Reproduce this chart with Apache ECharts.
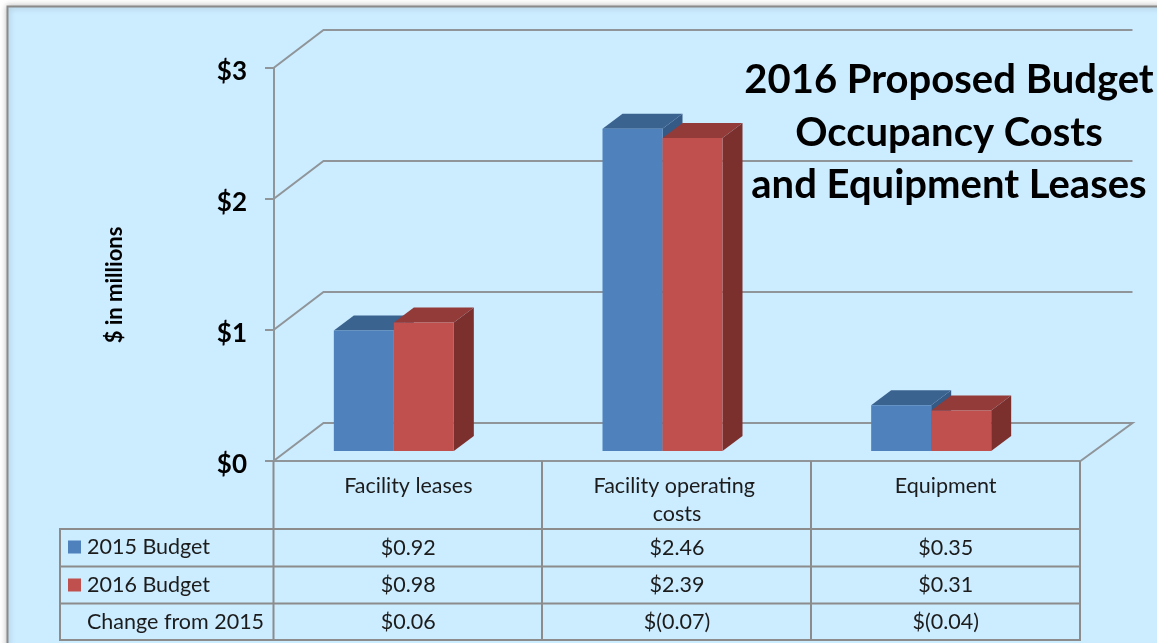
<!DOCTYPE html>
<html>
<head>
<meta charset="utf-8">
<style>html,body{margin:0;padding:0;background:#fff}#c{width:1157px;height:643px}</style>
<script src="https://cdn.jsdelivr.net/npm/echarts@6/dist/echarts.min.js"></script>
</head>
<body>
<div id="c"></div>
<script>
var categories = ['Facility leases', 'Facility operating costs', 'Equipment'];
var budget2015 = [0.92, 2.46, 0.35];
var budget2016 = [0.98, 2.39, 0.31];
var changeLabels = ['$0.06', '$(0.07)', '$(0.04)'];
var yTicks = [0, 1, 2, 3];
var yTickLabels = ['$0', '$1', '$2', '$3'];
var titleLines = ['2016 Proposed Budget', 'Occupancy Costs', 'and Equipment Leases'];
var yAxisTitle = '$ in millions';
var changeRowName = 'Change from 2015';

var FONT = 'Lato, Carlito, sans-serif';
var GRID = '#8f9599', TABLE = '#8c8c8c', INK = '#1c1c1c';
var chart = echarts.init(document.getElementById('c'), null, {renderer: 'canvas'});

function money(v) { return '$' + v.toFixed(2); }
var tableRows = [budget2015.map(money), budget2016.map(money), changeLabels];
var rowCenters = [548, 585.5, 622];
var tableData = [];
tableRows.forEach(function (r, ri) { r.forEach(function (t, ci) { tableData.push([ci, ri]); }); });

function barSeries(name, values, side, front, top, right) {
  return {
    name: name, type: 'custom', z: 5, silent: true,
    itemStyle: {color: front},
    data: values.map(function (v, i) { return [i, v]; }),
    encode: {x: 0, y: 1},
    renderItem: function (params, api) {
      var p = api.coord([api.value(0), api.value(1)]);
      var b = api.coord([api.value(0), 0]);
      var x0 = p[0] - 14.5 + (side < 0 ? -60 : 0), x1 = x0 + 60;
      var yt = p[1] - 10, yb = b[1] - 10, dx = 20, dy = 15;
      return {type: 'group', children: [
        {type: 'polygon', shape: {points: [[x1, yt], [x1 + dx, yt - dy], [x1 + dx, yb - dy], [x1, yb]]}, style: {fill: right}},
        {type: 'polygon', shape: {points: [[x0, yt], [x0 + dx, yt - dy], [x1 + dx, yt - dy], [x1, yt]]}, style: {fill: top}},
        {type: 'rect', shape: {x: x0, y: yt, width: 60, height: yb - yt}, style: {fill: api.visual('color')}}
      ]};
    }
  };
}

var tableLines = [];
function seg(x1, y1, x2, y2) {
  tableLines.push({type: 'line', silent: true, z: 2, shape: {x1: x1, y1: y1, x2: x2, y2: y2},
    style: {stroke: TABLE, lineWidth: 2}});
}
[529, 566.5, 603.5, 640].forEach(function (y) { seg(60, y, 1080, y); });
seg(60, 528, 60, 641);
[273.5, 542, 811, 1080].forEach(function (x) { seg(x, 461, x, 641); });

chart.setOption({
  animation: false,
  backgroundColor: '#ffffff',
  textStyle: {fontFamily: FONT},
  title: {
    text: titleLines.join('\n'), left: 944, top: 49, textAlign: 'center',
    textStyle: {fontFamily: FONT, fontSize: 40, fontWeight: 'bold', color: '#000', lineHeight: 52.5}
  },
  legend: {
    orient: 'vertical', left: 68, top: 536, padding: 0, itemWidth: 13, itemHeight: 13, itemGap: 16, icon: 'rect',
    selectedMode: false, data: ['2015 Budget', '2016 Budget'],
    textStyle: {fontFamily: FONT, fontSize: 21.5, color: INK, padding: [0, 0, 0, 1]}
  },
  grid: {left: 274, right: 77, top: 68, bottom: 182},
  xAxis: {
    type: 'category', data: categories,
    axisLine: {lineStyle: {color: GRID, width: 2}}, axisTick: {show: false},
    axisLabel: {color: INK, fontFamily: FONT, fontSize: 21.5, margin: 11, lineHeight: 28, width: 200, overflow: 'break', interval: 0}
  },
  yAxis: {
    type: 'value', min: 0, max: 3, interval: 1,
    splitLine: {show: false},
    axisLine: {show: true, lineStyle: {color: GRID, width: 2}},
    axisTick: {show: true, length: 9, lineStyle: {color: GRID, width: 2}},
    axisLabel: {margin: 27,
      rich: {t: {color: '#000', fontFamily: FONT, fontSize: 26, fontWeight: 'bold', padding: [8, 0, 0, 0]}},
      formatter: function (v) { return '{t|' + yTickLabels[yTicks.indexOf(v)] + '}'; }}
  },
  graphic: [
    {type: 'rect', z: -10, silent: true, shape: {x: 7.5, y: 6.5, width: 1160, height: 650},
      style: {fill: '#CCECFF', stroke: '#8a8a8a', lineWidth: 2, shadowBlur: 6, shadowColor: 'rgba(0,0,0,0.28)'}},
    {type: 'text', z: 3, silent: true, x: 115, y: 285, rotation: Math.PI / 2, originX: 0, originY: 0,
      style: {text: yAxisTitle, align: 'center', verticalAlign: 'middle', fill: '#000', fontFamily: FONT, fontSize: 22, fontWeight: 'bold'}}
  ].concat(tableLines),
  series: [
    {
      name: 'walls', type: 'custom', z: 1, silent: true,
      data: yTicks.map(function (v) { return [0, v]; }), encode: {x: 0, y: 1},
      renderItem: function (params, api) {
        var v = api.value(1), p = api.coord([0, v]), x0 = p[0] - api.size([1, 0])[0] / 2 - 0.5, y0 = p[1];
        var xEnd = x0 + 859, pts = [[x0, y0], [x0 + 50, y0 - 38], [xEnd, y0 - 38]];
        if (v === 0) { pts.push([x0 + 807, y0]); }
        return {type: 'polyline', shape: {points: pts}, style: {stroke: GRID, lineWidth: 2, fill: 'none'}};
      }
    },
    barSeries('2015 Budget', budget2015, -1, '#4F81BD', '#3B6390', '#355A85'),
    barSeries('2016 Budget', budget2016, 1, '#C0504D', '#923B39', '#7B302E'),
    {
      name: 'table', type: 'custom', z: 6, silent: true,
      data: tableData, encode: {x: 0},
      renderItem: function (params, api) {
        var ci = api.value(0), ri = api.value(1), p = api.coord([ci, 0]);
        return {type: 'text', style: {x: p[0], y: rowCenters[ri], text: tableRows[ri][ci], align: 'center', verticalAlign: 'middle',
          fill: INK, fontFamily: FONT, fontSize: 21.5}};
      }
    },
    {
      name: 'rowname', type: 'custom', z: 6, silent: true, data: [[0, 0]], encode: {x: 0},
      renderItem: function () {
        return {type: 'text', style: {x: 87, y: rowCenters[2], text: changeRowName, align: 'left', verticalAlign: 'middle',
          fill: INK, fontFamily: FONT, fontSize: 21.5}};
      }
    }
  ]
});
</script>
</body>
</html>
